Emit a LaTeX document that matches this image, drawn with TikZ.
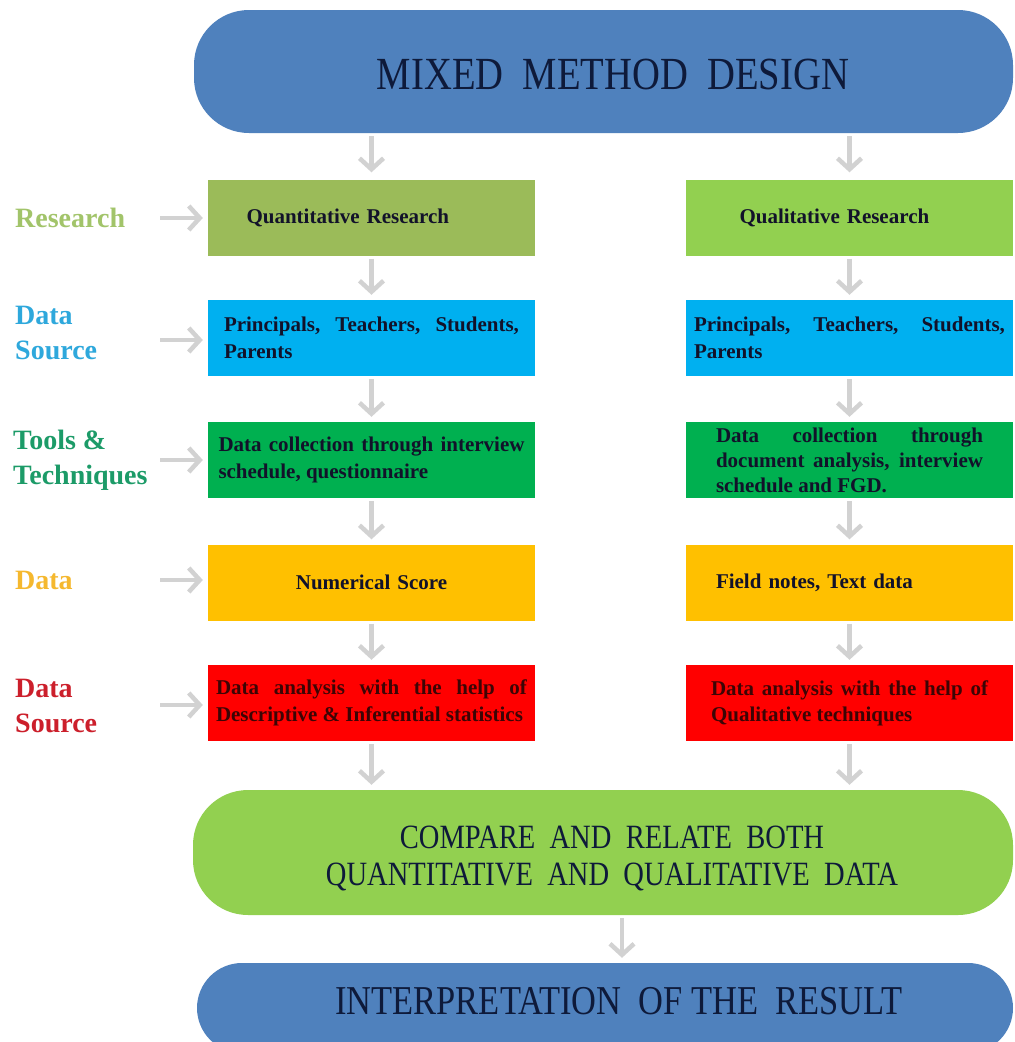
\documentclass[tikz,border=0pt]{standalone}
\usepackage{fontspec}
\setmainfont{Liberation Serif}
\newfontfamily\capsfont[FakeStretch=0.84]{Liberation Serif}
\usetikzlibrary{arrows.meta}

\definecolor{pillblue}{HTML}{4F81BD}
\definecolor{pillgreen}{HTML}{92D050}
\definecolor{olive}{HTML}{9BBB59}
\definecolor{lime}{HTML}{92D050}
\definecolor{sky}{HTML}{00B0F0}
\definecolor{leaf}{HTML}{00B050}
\definecolor{amber}{HTML}{FFC000}
\definecolor{scarlet}{HTML}{FF0000}
\definecolor{arrowgray}{HTML}{D2D2D2}
\definecolor{titleink}{HTML}{0E1A3A}
\definecolor{boxink}{HTML}{12122A}
\definecolor{redink}{HTML}{3C0505}
\definecolor{tagolive}{HTML}{A2C46A}
\definecolor{tagsky}{HTML}{2EA8DC}
\definecolor{tagleaf}{HTML}{1C9B68}
\definecolor{tagamber}{HTML}{F5B82E}
\definecolor{tagred}{HTML}{CC1F2B}

\hyphenpenalty=10000
\exhyphenpenalty=10000

\begin{document}
\begin{tikzpicture}[x=1pt,y=-1pt,
  pill/.style={rounded corners=55pt, inner sep=0pt},
  pilltext/.style={inner sep=0pt, text=titleink, align=center},
  cell/.style={minimum width=327pt, minimum height=76pt, inner xsep=0pt, inner ysep=0pt,
    font=\fontsize{21}{27}\selectfont\bfseries, text=boxink},
  tag/.style={anchor=west, align=left, inner sep=0pt,
    font=\fontsize{28}{35}\selectfont\bfseries},
  flow/.style={draw=arrowgray, line width=4.5pt,
    -{Straight Barb[length=11pt,width=24pt]},
    shorten <=3pt, shorten >=5pt},
]
\path[use as bounding box] (0,0) rectangle (1015,1042);
\clip (0,0) rectangle (1015,1042);
\fill[white] (0,0) rectangle (1015,1042);

% headline and closing bars
\node[pill, fill=pillblue, minimum width=819pt, minimum height=123pt] (mmd) at (603.5,71.5) {};
\node[pilltext, font=\capsfont\fontsize{46}{50}\selectfont] (mmdtext)
  at ([xshift=9.5pt,yshift=-3pt]mmd.center) {MIXED\ \ METHOD\ \ DESIGN};

\node[pill, fill=pillgreen, minimum width=820pt, minimum height=125pt] (cmp) at (603,852.5) {};
\node[pilltext, font=\capsfont\fontsize{34}{37}\selectfont] (cmptext)
  at ([xshift=9pt,yshift=-6pt]cmp.center)
  {COMPARE\ \ AND\ \ RELATE\ \ BOTH\\QUANTITATIVE\ \ AND\ \ QUALITATIVE\ \ DATA};

\node[pill, rounded corners=45pt, fill=pillblue, minimum width=816pt, minimum height=90pt] (res) at (605,1008) {};
\node[pilltext, font=\capsfont\fontsize{41}{44}\selectfont] (restext)
  at (619,1001) {INTERPRETATION\ \ OF THE\ \ RESULT};

% quantitative column
\node[cell, fill=olive, text width=250pt, align=left] (q1) at (371.5,217.5)
  {Quantitative Research};
\node[cell, fill=sky, text width=295pt, align=justify] (q2) at (371.5,338)
  {Principals, Teachers, Students,\linebreak Parents};
\node[cell, fill=leaf, text width=306pt, align=justify] (q3) at (371.5,460)
  {Data collection through interview\linebreak schedule, questionnaire};
\node[cell, fill=amber, text width=311pt, align=center] (q4) at (371.5,582.5)
  {Numerical Score};
\node[cell, fill=scarlet, text width=311pt, align=justify, text=redink] (q5) at (371.5,703)
  {Data analysis with the help of\linebreak Descriptive \& Inferential statistics};

% qualitative column
\node[cell, fill=lime, text width=220pt, align=left] (r1) at (849.5,217.5)
  {Qualitative Research};
\node[cell, fill=sky, text width=311pt, align=justify] (r2) at (849.5,338)
  {Principals, Teachers, Students,\linebreak Parents};
\node[cell, fill=leaf, text width=267pt, align=justify,
      font=\fontsize{21}{25}\selectfont\bfseries] (r3) at (849.5,460)
  {Data collection through\linebreak document analysis, interview\linebreak schedule and FGD.};
\node[cell, fill=amber, text width=267pt, align=left] (r4) at (849.5,582.5)
  {Field notes, Text data};
\node[cell, fill=scarlet, text width=277pt, align=justify, text=redink,
      font=\fontsize{21}{26}\selectfont\bfseries] (r5) at (849.5,703)
  {Data analysis with the help of\linebreak Qualitative techniques};

% row captions
\node[tag, text=tagolive] (t1) at (15,218) {Research};
\node[tag, text=tagsky]   (t2) at (15,333) {Data\\Source};
\node[tag, text=tagleaf]  (t3) at (13,460) {Tools \&\\Techniques};
\node[tag, text=tagamber] (t4) at (15,580) {Data};
\node[tag, text=tagred]   (t5) at (15,706) {Data\\Source};

\coordinate (h1) at (160,218);
\coordinate (h2) at (160,340);
\coordinate (h3) at (160,460);
\coordinate (h4) at (160,580);
\coordinate (h5) at (160,705);

% caption pointers
\draw[flow, shorten <=0pt] (h1) -- (q1.west |- h1);
\draw[flow, shorten <=0pt] (h2) -- (q2.west |- h2);
\draw[flow, shorten <=0pt] (h3) -- (q3.west |- h3);
\draw[flow, shorten <=0pt] (h4) -- (q4.west |- h4);
\draw[flow, shorten <=0pt] (h5) -- (q5.west |- h5);

% vertical flow
\draw[flow, shorten >=7pt] (q1.north |- mmd.south) -- (q1.north);
\draw[flow, shorten >=7pt] (r1.north |- mmd.south) -- (r1.north);
\draw[flow] (q1) -- (q2);
\draw[flow] (q2) -- (q3);
\draw[flow] (q3) -- (q4);
\draw[flow] (q4) -- (q5);
\draw[flow] (r1) -- (r2);
\draw[flow] (r2) -- (r3);
\draw[flow] (r3) -- (r4);
\draw[flow] (r4) -- (r5);
\draw[flow] (q5.south) -- (q5.south |- cmp.north);
\draw[flow] (r5.south) -- (r5.south |- cmp.north);
\coordinate (merge) at ([xshift=19pt]cmp.south);
\draw[flow] (merge) -- (merge |- res.north);
\end{tikzpicture}
\end{document}
